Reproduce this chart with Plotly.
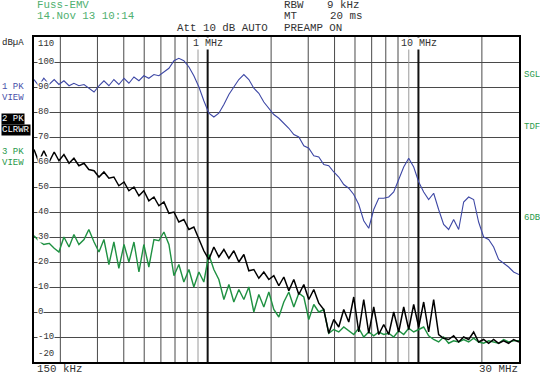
import math
import plotly.graph_objects as go

# ---------------- data ----------------
FREQ_MHZ = [
    0.150, 0.158, 0.167, 0.177, 0.187, 0.197, 0.208, 0.220, 0.232, 0.245,
    0.259, 0.273, 0.289, 0.305, 0.322, 0.340, 0.359, 0.379, 0.401, 0.423,
    0.447, 0.472, 0.498, 0.526, 0.556, 0.587, 0.620, 0.655, 0.692, 0.730,
    0.771, 0.815, 0.860, 0.909, 0.959, 1.013, 1.070, 1.130, 1.194, 1.261,
    1.331, 1.406, 1.485, 1.568, 1.656, 1.749, 1.847, 1.951, 2.060, 2.176,
    2.298, 2.427, 2.563, 2.707, 2.859, 3.019, 3.188, 3.367, 3.556, 3.755,
    3.966, 4.188, 4.423, 4.671, 4.933, 5.210, 5.502, 5.811, 6.137, 6.481,
    6.845, 7.229, 7.634, 8.062, 8.514, 8.992, 9.496, 10.03, 10.59, 11.18,
    11.81, 12.47, 13.17, 13.91, 14.69, 15.52, 16.39, 17.31, 18.28, 19.30,
    20.39, 21.53, 22.74, 24.01, 25.36, 26.78, 28.28, 30.00,
]

PK1_VIEW = [
    93, 90.5, 93.5, 91, 93, 91, 92.5, 90.5, 91.5, 90.5,
    91, 89.5, 88, 90.5, 92.5, 90.5, 93, 91, 93.5, 91.5,
    94, 92.5, 94.5, 93.5, 95, 94.5, 96, 97.5, 100.5, 101.5,
    100.5, 98, 94.5, 90, 84.5, 79.5, 78, 79.5, 83, 87,
    90, 93, 95, 93, 89.5, 87.5, 84, 81.5, 79, 77.5,
    75.5, 73.5, 71, 70, 66.5, 65.5, 62.5, 62, 59, 58.5,
    56, 54, 51, 49.5, 47, 43, 36.5, 33.5, 41, 45.5,
    45.5, 46, 48, 53, 58, 61.5, 58, 52, 48, 45,
    47.5, 41, 35, 33, 37, 33, 44, 46, 45, 36,
    30, 29, 26, 21, 19.5, 18, 16, 15,
]

PK2_CLRWR = [
    65, 60, 64.5, 60, 64, 60.5, 63, 59.5, 61.5, 58.5,
    59.5, 57, 56.5, 54, 56, 53.5, 54, 50.5, 52, 48.5,
    50, 46.5, 48.5, 44.5, 46, 42.5, 44, 39.5, 40, 36,
    37, 33, 34, 29.5, 24.5, 21, 26, 22, 25, 21.5,
    24.5, 20, 23, 16.5, 17, 13.5, 16, 13, 14.5, 10.5,
    14, 8.5, 13, 7, 11, 5, 9, 3.5, 1, -8.5,
    -3, -6, 1, -4, 6, -8, 5, -8.5, 2, -9,
    -5, -9, 0, -8, 2, -7, 3, -6, 4, -8,
    5, -9, -10.5, -11, -9.5, -12, -10, -11, -8, -12,
    -11, -12.5, -11, -12.5, -11.5, -12.5, -11, -12,
]

PK3_VIEW = [
    30.5, 28.5, 27, 27.5, 25.5, 24, 30, 26, 31, 27,
    29, 33, 28, 24, 29, 19, 28, 17.5, 27, 20,
    28, 16, 27, 18, 29, 28.5, 32, 27, 14.5, 19,
    12, 17, 10, 16, 12, 23, 17, 13, 5, 11,
    4, 9, 5, 10, 0, 7, 2, 8, 1, -2,
    4, 8, 2, 7.5, 6, -3, 3, 0, 1, -8.5,
    -7, -8, -6, -7.5, -9, -6.5, -10, -8, -9.5, -8,
    -9, -8.5, -10, -7.5, -9, -6.5, -8, -7, -6, -9.5,
    -11, -12, -10, -12.5, -11.5, -12, -11, -12, -10.5, -12,
    -12.5, -11.5, -12, -12.5, -11, -12, -11.5, -11.5,
]

GRID_MINOR_MHZ = [0.2, 0.3, 0.4, 0.5, 0.6, 0.7, 0.8, 2, 3, 4, 5, 6, 7, 8, 20]
GRID_LIGHT_MHZ = [0.9, 9]
GRID_MAJOR_MHZ = [1, 10]
Y_TICKS = [100, 90, 80, 70, 60, 50, 40, 30, 20, 10, 0, -10]
Y_MIN, Y_MAX = -20, 110
F_MIN, F_MAX = 0.15, 30

# ---------------- layout geometry (pixels) ----------------
W, H = 540, 374
PL, PR, PT, PB = 34, 519, 37, 362
MONO = "Liberation Mono, DejaVu Sans Mono, monospace"


def px(x):
    return (x - PL) / (PR - PL)


def py(y):
    return (PB - y) / (PB - PT)


fig = go.Figure()


def vline(f, color, width):
    fig.add_trace(go.Scatter(x=[f, f], y=[Y_MIN, Y_MAX], mode="lines",
                             line=dict(color=color, width=width),
                             hoverinfo="skip", showlegend=False))


for f in GRID_MINOR_MHZ:
    vline(f, "#4a4a4a", 1)
for f in GRID_LIGHT_MHZ:
    vline(f, "#9a9a9a", 1)
for f in GRID_MAJOR_MHZ:
    vline(f, "#111111", 2)

fig.add_trace(go.Scatter(x=FREQ_MHZ, y=PK1_VIEW, mode="lines",
                         line=dict(color="#3d47a5", width=1.1), showlegend=False))
fig.add_trace(go.Scatter(x=FREQ_MHZ, y=PK3_VIEW, mode="lines",
                         line=dict(color="#1f9142", width=1.4), showlegend=False))
fig.add_trace(go.Scatter(x=FREQ_MHZ, y=PK2_CLRWR, mode="lines",
                         line=dict(color="#000000", width=1.5), showlegend=False))

annotations = []


def ann(text, x, y, color="#333333", size=9, xanchor="left", bg=None, yref="paper"):
    d = dict(text=text, x=px(x), y=(py(y) if yref == "paper" else y),
             xref="paper", yref=yref, showarrow=False, xanchor=xanchor,
             yanchor="middle", font=dict(family=MONO, size=size, color=color),
             borderpad=0)
    if bg:
        d["bgcolor"] = bg
    annotations.append(d)


# y tick labels inside plot
for v in Y_TICKS:
    ann(str(v), 37, v, color="#333333", size=9, bg="white", yref="y")
ann("110", 37, 44, size=9)
ann("-20", 37, 354, size=9)

# header
GREEN_LT = "#4fb070"
HS = 10.8
ann("Fuss-EMV", 36, 5, color=GREEN_LT, size=HS)
ann("14.Nov 13 10:14", 36, 16, color=GREEN_LT, size=HS)
ann("RBW", 283, 5, size=HS)
ann("9 kHz", 326, 5, size=HS)
ann("MT", 283, 16, size=HS)
ann("20 ms", 329, 16, size=HS)
ann("Att 10 dB AUTO", 176, 28, size=HS)
ann("PREAMP ON", 283, 28, size=HS)
ann("dBµA", 1, 43, color="#222222", size=9)

# left trace labels
ann("1 PK", 1, 87, color="#4a52aa", size=9)
ann("VIEW", 1, 98, color="#4a52aa", size=9)
ann("2 PK", 1, 119, color="white", size=9, bg="black")
ann("CLRWR", 1, 130, color="white", size=9, bg="black")
ann("3 PK", 1, 152, color="#2a9a4c", size=9)
ann("VIEW", 1, 163, color="#2a9a4c", size=9)

# right labels
ann("SGL", 523, 75, color="#2a9a4c", size=9)
ann("TDF", 523, 127, color="#2a9a4c", size=9)
ann("6DB", 523, 218, color="#2a9a4c", size=9)

# frequency labels
ann("1 MHz", 192, 44, size=10, bg="white")
ann("10 MHz", 400, 44, size=10, bg="white")
ann("150 kHz", 36, 369, size=HS)
ann("30 MHz", 519, 369, size=HS, xanchor="right")

fig.update_layout(
    width=W, height=H, autosize=False,
    margin=dict(l=PL, r=W - PR, t=PT, b=H - PB, pad=0),
    paper_bgcolor="white", plot_bgcolor="white",
    xaxis=dict(type="log", range=[math.log10(F_MIN), math.log10(F_MAX)],
               showgrid=False, showticklabels=False, ticks="", zeroline=False,
               showline=True, mirror=True, linecolor="black", linewidth=2),
    yaxis=dict(range=[Y_MIN, Y_MAX], tickvals=Y_TICKS, showgrid=True,
               gridcolor="#4a4a4a", gridwidth=1, showticklabels=False, ticks="",
               zeroline=False, showline=True, mirror=True, linecolor="black",
               linewidth=2),
    annotations=annotations,
    showlegend=False,
)

fig.write_html("out.html")
